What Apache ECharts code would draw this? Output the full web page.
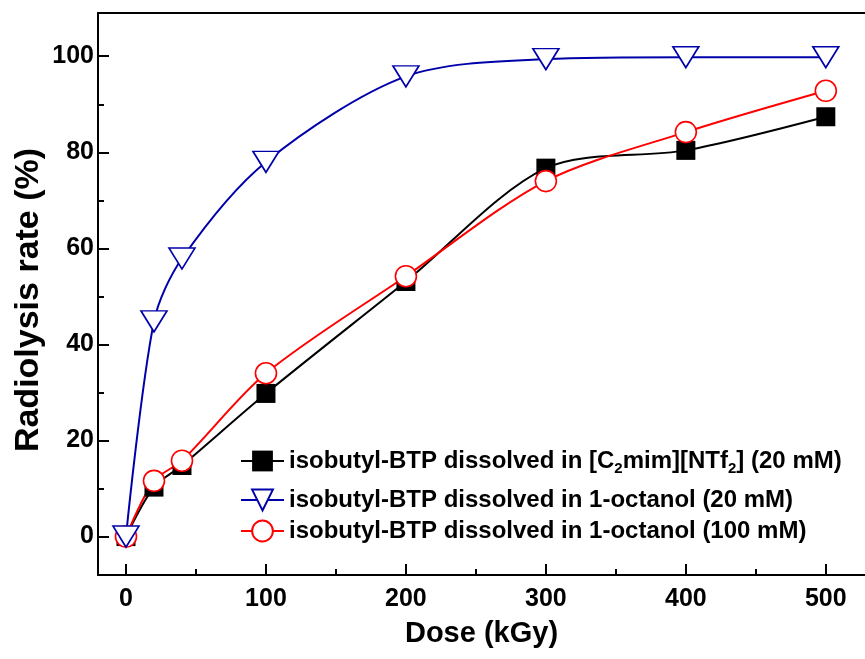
<!DOCTYPE html>
<html>
<head>
<meta charset="utf-8">
<script src="https://cdn.jsdelivr.net/npm/echarts@6/dist/echarts.min.js"></script>
<style>
  html, body { margin: 0; padding: 0; background: #fff; }
  #chart { width: 865px; height: 659px; }
</style>
</head>
<body>
<div id="chart"></div>
<script>
// dose points (kGy)
const dose = [0, 20, 40, 100, 200, 300, 400, 500]
// radiolysis rate (%)
const ilRate = [0, 10.3, 14.8, 29.8, 53.1, 76.7, 80.4, 87.4]        // [C2mim][NTf2] 20 mM
const oct20Rate = [0, 44.8, 57.9, 78, 95.8, 99.4, 99.8, 99.8]       // 1-octanol 20 mM
const oct100Rate = [0, 11.6, 15.8, 34, 54.2, 74, 84.2, 92.8]        // 1-octanol 100 mM

const xTicks = [0, 100, 200, 300, 400, 500]
const xMinor = [50, 150, 250, 350, 450]
const yTicks = [0, 20, 40, 60, 80, 100]
const yMinor = [10, 30, 50, 70, 90]

const nameIL = 'isobutyl-BTP dissolved in [C2mim][NTf2] (20 mM)'
const name20 = 'isobutyl-BTP dissolved in 1-octanol (20 mM)'
const name100 = 'isobutyl-BTP dissolved in 1-octanol (100 mM)'

const font = 'Liberation Sans'

function pairs(xs, ys) {
    return xs.map((x, i) => [x, ys[i]])
}

function legendAt(name, top) {
    return {
        data: [name],
        left: 235,
        top: top,
        itemWidth: 43,
        itemHeight: 26,
        itemGap: 0,
        textStyle: {
            fontFamily: font,
            fontWeight: 'bold',
            fontSize: 24,
            color: '#000',
            rich: {
                a: { fontFamily: font, fontWeight: 'bold', fontSize: 24, lineHeight: 30, color: '#000' },
                s: { fontFamily: font, fontWeight: 'bold', fontSize: 15, lineHeight: 15, verticalAlign: 'bottom', color: '#000' }
            }
        },
        formatter: n => {
            if (n === nameIL) {
                return '{a|isobutyl-BTP dissolved in [C}{s|2}{a|mim][NTf}{s|2}{a|] (20 mM)}'
            }
            return n
        }
    }
}

const chart = echarts.init(document.getElementById('chart'), null, { renderer: 'canvas' })

const axisLineStyle = { color: '#000', width: 2 }

const option = {
    animation: false,
    backgroundColor: '#fff',
    grid: {
        left: 98,
        right: 0,
        top: 13,
        bottom: 84
    },
    // y axis title, rotated
    graphic: [{
        type: 'text',
        x: 29,
        y: 300,
        rotation: Math.PI / 2,
        style: {
            text: 'Radiolysis rate (%)',
            align: 'center',
            verticalAlign: 'middle',
            fontFamily: font,
            fontWeight: 'bold',
            fontSize: 34,
            fill: '#000'
        }
    }],
    legend: [
        legendAt(nameIL, 444),
        legendAt(name20, 483),
        legendAt(name100, 514)
    ],
    xAxis: [{
        type: 'value',
        min: -20,
        max: 528,
        position: 'bottom',
        name: 'Dose (kGy)',
        nameLocation: 'middle',
        nameGap: 44,
        nameTextStyle: { fontFamily: font, fontWeight: 'bold', fontSize: 29, color: '#000' },
        axisLine: { onZero: false, lineStyle: axisLineStyle },
        axisTick: { inside: true, length: 11, customValues: xTicks, lineStyle: axisLineStyle },
        axisLabel: { customValues: xTicks, margin: 12, fontFamily: font, fontWeight: 'bold', fontSize: 25, color: '#000' },
        splitLine: { show: false }
    }, {
        // minor ticks
        type: 'value',
        min: -20,
        max: 528,
        position: 'bottom',
        axisLine: { show: false, onZero: false },
        axisTick: { inside: true, length: 6, customValues: xMinor, lineStyle: axisLineStyle },
        axisLabel: { show: false },
        splitLine: { show: false }
    }, {
        // top frame
        type: 'value',
        min: -20,
        max: 528,
        position: 'top',
        axisLine: { onZero: false, lineStyle: axisLineStyle },
        axisTick: { show: false },
        axisLabel: { show: false },
        splitLine: { show: false }
    }],
    yAxis: [{
        type: 'value',
        min: -8,
        max: 109,
        position: 'left',
        axisLine: { onZero: false, lineStyle: axisLineStyle },
        axisTick: { inside: true, length: 11, customValues: yTicks, lineStyle: axisLineStyle },
        axisLabel: { customValues: yTicks, margin: 4, fontFamily: font, fontWeight: 'bold', fontSize: 25, color: '#000' },
        splitLine: { show: false }
    }, {
        type: 'value',
        min: -8,
        max: 109,
        position: 'left',
        axisLine: { show: false, onZero: false },
        axisTick: { inside: true, length: 6, customValues: yMinor, lineStyle: axisLineStyle },
        axisLabel: { show: false },
        splitLine: { show: false }
    }],
    series: [{
        name: nameIL,
        type: 'line',
        smooth: 0.3,
        data: pairs(dose, ilRate),
        symbol: 'rect',
        symbolSize: 19,
        color: '#000',
        lineStyle: { color: '#000', width: 2 },
        itemStyle: { color: '#000', borderColor: '#000', borderWidth: 0 }
    }, {
        name: name100,
        type: 'line',
        smooth: 0.3,
        data: pairs(dose, oct100Rate),
        symbol: 'circle',
        symbolSize: 21,
        color: '#ff0000',
        lineStyle: { color: '#ff0000', width: 2 },
        itemStyle: { color: '#fff', borderColor: '#ff0000', borderWidth: 1.6 }
    }, {
        name: name20,
        type: 'line',
        smooth: 0.3,
        data: pairs(dose, oct20Rate),
        symbol: 'triangle',
        symbolRotate: 180,
        symbolSize: [26, 21],
        color: '#0000aa',
        lineStyle: { color: '#0000aa', width: 2 },
        itemStyle: { color: '#fff', borderColor: '#0000aa', borderWidth: 1.6 }
    }]
}

chart.setOption(option)
</script>
</body>
</html>
